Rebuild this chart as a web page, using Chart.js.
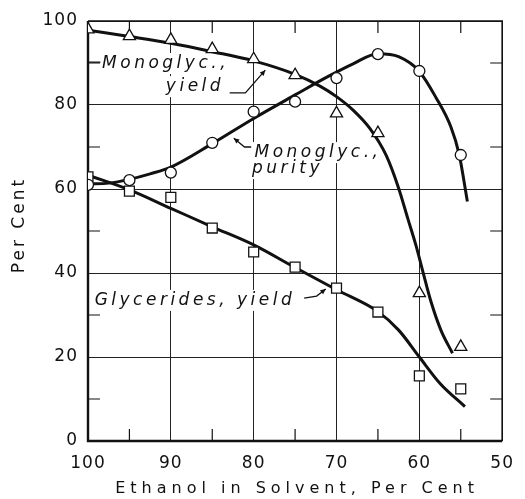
<!DOCTYPE html>
<html lang="en">
<head>
    <meta charset="UTF-8">
    <title>Monoglyceride yield and purity</title>
    <style>
        body {
            margin: 0;
            padding: 0;
            background-color: #fff;
        }

        .chart-container {
            width: 525px;
            height: 499px;
        }
    </style>
    <script src="https://cdn.jsdelivr.net/npm/chart.js"></script>
</head>
<body>
    <div class="chart-container">
        <canvas id="ethanolChart"></canvas>
    </div>

    <script>
        // measured points
        const ethanol = [100, 95, 90, 85, 80, 75, 70, 65, 60, 55];
        const monoYield = [98, 96.4, 95.5, 93.3, 90.9, 87.1, 78, 73.3, 35.2, 22.4];
        const monoPurity = [61, 62.1, 63.9, 71, 78.4, 80.8, 86.4, 92.1, 88.1, 68.1];
        const glycYield = [62.9, 59.5, 58, 50.7, 45, 41.4, 36.4, 30.7, 15.5, 12.4];

        // smoothed curves
        const yieldCurveX = [100, 95, 90, 85, 80, 75, 72, 70, 68, 66, 64, 62.5, 61.4, 60.4, 59.6, 58.6, 57.4, 56];
        const yieldCurveY = [97.8, 96.3, 94.7, 92.7, 90.5, 87.3, 84.5, 82, 78.8, 74.5, 68, 60.2, 53, 46.5, 40.5, 33.2, 26.4, 20.9];
        const purityCurveX = [100, 97.5, 95, 92.5, 90, 85, 80, 75, 71, 68, 65, 62.5, 60, 58, 56.2, 55.2, 54.2];
        const purityCurveY = [61.2, 61.4, 62.3, 63.6, 65.2, 70.8, 76.8, 82.4, 86.8, 89.8, 92.2, 91.5, 88, 81.8, 74.8, 68.3, 57];
        const glycCurveX = [100, 95, 90, 85, 80, 75, 70, 65, 62.5, 60, 57.5, 54.5];
        const glycCurveY = [63.3, 59.8, 55.4, 51, 46.7, 41.3, 36, 30.8, 26.4, 20, 13.7, 8.2];

        const xTicks = [100, 90, 80, 70, 60, 50];
        const yTicks = [0, 20, 40, 60, 80, 100];
        const xMinor = [95, 85, 75, 65, 55];
        const yMinor = [10, 30, 50, 70, 90];

        const xTitle = 'Ethanol in Solvent, Per Cent';
        const yTitle = 'Per Cent';

        // curve labels: text, left x, baseline y (data units)
        const notes = [
            { text: 'Monoglyc.,', x: 98.3, y: 88.8 },
            { text: 'yield', x: 90.6, y: 83.3 },
            { text: 'Monoglyc.,', x: 79.9, y: 67.6 },
            { text: 'purity', x: 80.2, y: 63.8 },
            { text: 'Glycerides, yield', x: 99.2, y: 32.4 }
        ];
        // leader lines, last point gets an arrow head (arrow: false = plain dash)
        const leaders = [
            { pts: [[100, 90.2], [98.5, 90.2]], arrow: false },
            { pts: [[82.9, 82.9], [81.0, 82.9], [78.6, 88.3]], arrow: true },
            { pts: [[80.3, 70], [81.1, 70], [82.4, 72.1]], arrow: true },
            { pts: [[73.9, 34], [72.4, 34.5], [71.3, 36.2]], arrow: true }
        ];

        const toXY = (xs, ys) => xs.map((x, i) => ({ x: x, y: ys[i] }));

        const NOTE_FONT = 'italic 17px "DejaVu Sans"';
        const INK = '#111';

        const decor = {
            id: 'decor',
            beforeDraw(chart) {
                chart.ctx.letterSpacing = '1px';
            },
            beforeDatasetsDraw(chart) {
                const ctx = chart.ctx;
                const xs = chart.scales.x;
                const ys = chart.scales.y;
                const a = chart.chartArea;
                ctx.save();

                // white boxes behind labels, then text
                ctx.font = NOTE_FONT;
                ctx.letterSpacing = '3.5px';
                ctx.textAlign = 'left';
                ctx.textBaseline = 'alphabetic';
                notes.forEach(n => {
                    const px = xs.getPixelForValue(n.x);
                    const py = ys.getPixelForValue(n.y);
                    const w = ctx.measureText(n.text).width;
                    ctx.fillStyle = '#fff';
                    ctx.fillRect(px - 3, py - 15, w + 2, 21);
                });
                ctx.fillStyle = INK;
                notes.forEach(n => {
                    ctx.fillText(n.text, xs.getPixelForValue(n.x), ys.getPixelForValue(n.y));
                });

                // leaders
                ctx.strokeStyle = INK;
                ctx.lineWidth = 1.3;
                leaders.forEach(l => {
                    const p = l.pts.map(q => [xs.getPixelForValue(q[0]), ys.getPixelForValue(q[1])]);
                    ctx.beginPath();
                    ctx.moveTo(p[0][0], p[0][1]);
                    for (let i = 1; i < p.length; i++) ctx.lineTo(p[i][0], p[i][1]);
                    ctx.stroke();
                    if (l.arrow) {
                        const e = p[p.length - 1], b = p[p.length - 2];
                        const ang = Math.atan2(e[1] - b[1], e[0] - b[0]);
                        ctx.beginPath();
                        ctx.moveTo(e[0], e[1]);
                        ctx.lineTo(e[0] - 6 * Math.cos(ang - 0.45), e[1] - 6 * Math.sin(ang - 0.45));
                        ctx.lineTo(e[0] - 6 * Math.cos(ang + 0.45), e[1] - 6 * Math.sin(ang + 0.45));
                        ctx.closePath();
                        ctx.fillStyle = INK;
                        ctx.fill();
                    }
                });

                // short inward ticks
                ctx.lineWidth = 1.2;
                ctx.beginPath();
                yMinor.forEach(v => {
                    const py = ys.getPixelForValue(v);
                    ctx.moveTo(a.left, py); ctx.lineTo(a.left + 12, py);
                    ctx.moveTo(a.right, py); ctx.lineTo(a.right - 12, py);
                });
                xMinor.forEach(v => {
                    const px = xs.getPixelForValue(v);
                    ctx.moveTo(px, a.top); ctx.lineTo(px, a.top + 12);
                    ctx.moveTo(px, a.bottom); ctx.lineTo(px, a.bottom - 12);
                });
                ctx.stroke();

                // frame
                ctx.lineWidth = 1.6;
                ctx.beginPath();
                ctx.moveTo(a.left, a.top); ctx.lineTo(a.right, a.top); ctx.lineTo(a.right, a.bottom);
                ctx.stroke();
                ctx.lineWidth = 2.4;
                ctx.beginPath();
                ctx.moveTo(a.left, a.top); ctx.lineTo(a.left, a.bottom); ctx.lineTo(a.right, a.bottom);
                ctx.stroke();

                // axis titles
                ctx.fillStyle = INK;
                ctx.textAlign = 'center';
                ctx.textBaseline = 'middle';
                ctx.font = '16px "DejaVu Sans"';
                ctx.letterSpacing = '5px';
                ctx.fillText(xTitle, (a.left + a.right) / 2 + 2, 489);
                ctx.font = '17px "DejaVu Sans"';
                ctx.letterSpacing = '3px';
                ctx.translate(20, 225);
                ctx.rotate(-Math.PI / 2);
                ctx.fillText(yTitle, 0, 0);
                ctx.restore();
            }
        };

        Chart.defaults.font.family = '"DejaVu Sans"';
        Chart.defaults.font.size = 17;
        Chart.defaults.color = INK;

        const markerStyle = {
            showLine: false,
            pointBackgroundColor: '#fff',
            pointBorderColor: INK,
            pointBorderWidth: 1.3,
            order: 0
        };
        const curveStyle = {
            borderColor: INK,
            borderWidth: 3,
            pointRadius: 0,
            fill: false,
            cubicInterpolationMode: 'monotone',
            order: 1
        };

        const ctx = document.getElementById('ethanolChart').getContext('2d');
        const chart = new Chart(ctx, {
            type: 'line',
            data: {
                datasets: [
                    Object.assign({ label: 'Monoglyc., yield', data: toXY(ethanol, monoYield), pointStyle: 'triangle', pointRadius: 7 }, markerStyle),
                    Object.assign({ label: 'Monoglyc., purity', data: toXY(ethanol, monoPurity), pointStyle: 'circle', pointRadius: 5.5 }, markerStyle),
                    Object.assign({ label: 'Glycerides, yield', data: toXY(ethanol, glycYield), pointStyle: 'rect', pointRadius: 7 }, markerStyle),
                    Object.assign({ label: 'yield curve', data: toXY(yieldCurveX, yieldCurveY) }, curveStyle),
                    Object.assign({ label: 'purity curve', data: toXY(purityCurveX, purityCurveY) }, curveStyle),
                    Object.assign({ label: 'glycerides curve', data: toXY(glycCurveX, glycCurveY) }, curveStyle)
                ]
            },
            options: {
                responsive: true,
                maintainAspectRatio: false,
                animation: false,
                layout: { padding: { top: 21, right: 16, left: 0, bottom: 0 } },
                plugins: {
                    legend: { display: false },
                    tooltip: { enabled: false }
                },
                scales: {
                    x: {
                        type: 'linear',
                        min: 50,
                        max: 100,
                        reverse: true,
                        afterBuildTicks: s => { s.ticks = xTicks.map(v => ({ value: v })); },
                        afterFit: s => { s.height = 58; },
                        grid: { color: '#222', lineWidth: 1, drawTicks: false },
                        border: { display: false },
                        ticks: { padding: 12, maxRotation: 0, autoSkip: false }
                    },
                    y: {
                        min: 0,
                        max: 100,
                        afterBuildTicks: s => { s.ticks = yTicks.map(v => ({ value: v })); },
                        afterFit: s => { s.width = 88; },
                        grid: { color: '#222', lineWidth: 1, drawTicks: false },
                        border: { display: false },
                        ticks: { padding: 10, autoSkip: false }
                    }
                }
            },
            plugins: [decor]
        });
    </script>
</body>
</html>
